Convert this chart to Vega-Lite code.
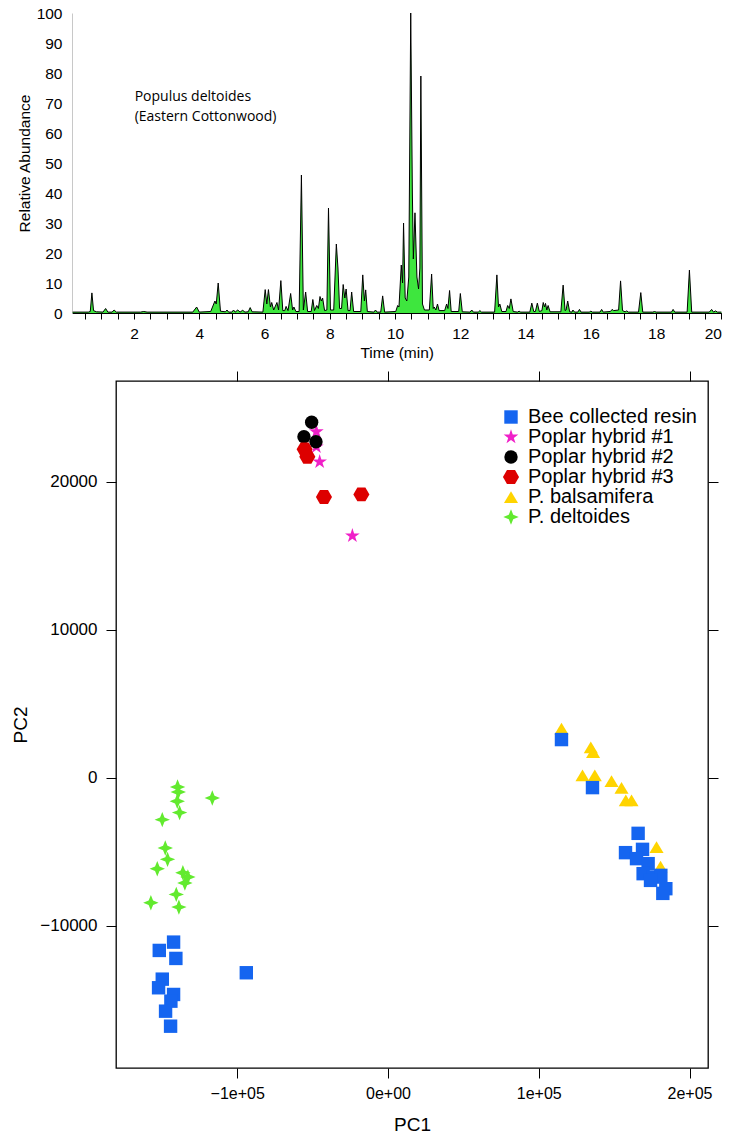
{
  "$schema": "https://vega.github.io/schema/vega-lite/v6.json",
  "background": "white",
  "padding": {"left": 10, "top": 6, "right": 0, "bottom": 0},
  "spacing": 8,
  "config": {
    "font": "Liberation Sans",
    "view": {"stroke": "black", "strokeWidth": 1.3},
    "axis": {"grid": false, "labelColor": "black", "titleColor": "black", "domainColor": "black", "tickColor": "black", "titleFontWeight": "normal", "labelFont": "Liberation Sans", "titleFont": "Liberation Sans"}
  },
  "vconcat": [
    {
      "width": 649.4,
      "height": 300,
      "view": {"stroke": null},
      "encoding": {
        "x": {"field": "t", "type": "quantitative", "scale": {"domain": [0.1, 20], "nice": false, "zero": false},
          "axis": {"values": [0.5,1,1.5,2,2.5,3,3.5,4,4.5,5,5.5,6,6.5,7,7.5,8,8.5,9,9.5,10,10.5,11,11.5,12,12.5,13,13.5,14,14.5,15,15.5,16,16.5,17,17.5,18,18.5,19,19.5,20],
            "labelExpr": "datum.value / 2 == floor(datum.value / 2) ? format(datum.value, 'd') : ''", "labelOverlap": false, "labelFontSize": 15.5, "tickSize": 6, "labelPadding": 7,
            "title": "Time (min)", "titleFontSize": 15.5, "titlePadding": 4, "domain": true}},
        "y": {"field": "a", "type": "quantitative", "scale": {"domain": [0, 100], "nice": false},
          "axis": {"values": [0,10,20,30,40,50,60,70,80,90,100], "labelOverlap": false, "ticks": false, "labelPadding": 10, "labelFontSize": 15.5,
            "title": "Relative Abundance", "titleFontSize": 15.5, "titlePadding": 4, "domainColor": "#c8c8c8"}}
      },
      "layer": [
        {
          "data": {"values": [
            {"t":0.12,"a":0.3},{"t":0.6,"a":0.3},{"t":0.66,"a":0.5},{"t":0.71,"a":6.7},{"t":0.76,"a":0.8},{"t":0.85,"a":0.4},
            {"t":1.05,"a":0.3},{"t":1.13,"a":1.5},{"t":1.2,"a":0.3},{"t":1.33,"a":0.3},{"t":1.39,"a":1.0},{"t":1.46,"a":0.3},
            {"t":2.2,"a":0.3},{"t":2.3,"a":0.5},{"t":2.4,"a":0.3},{"t":3.8,"a":0.3},{"t":3.92,"a":2.0},{"t":4.0,"a":0.3},
            {"t":4.35,"a":0.5},{"t":4.48,"a":4.0},{"t":4.52,"a":3.0},{"t":4.58,"a":10.0},{"t":4.65,"a":0.6},
            {"t":4.8,"a":0.4},{"t":4.85,"a":1.0},{"t":4.9,"a":0.3},{"t":5.0,"a":0.3},{"t":5.05,"a":1.0},{"t":5.1,"a":0.3},
            {"t":5.18,"a":1.0},{"t":5.25,"a":0.3},{"t":5.33,"a":0.9},{"t":5.4,"a":0.3},{"t":5.5,"a":0.4},{"t":5.56,"a":1.8},{"t":5.62,"a":0.4},
            {"t":5.95,"a":0.3},{"t":6.02,"a":7.8},{"t":6.07,"a":3},{"t":6.12,"a":7.8},{"t":6.18,"a":2},{"t":6.22,"a":3.5},{"t":6.28,"a":1},
            {"t":6.38,"a":3.5},{"t":6.43,"a":1},{"t":6.5,"a":10.8},{"t":6.56,"a":0.8},{"t":6.62,"a":0.8},{"t":6.66,"a":2.2},{"t":6.72,"a":0.8},
            {"t":6.8,"a":6.5},{"t":6.86,"a":1},{"t":6.9,"a":2},{"t":6.96,"a":0.5},{"t":7.06,"a":0.5},{"t":7.13,"a":46},{"t":7.19,"a":1},
            {"t":7.26,"a":7},{"t":7.32,"a":0.5},{"t":7.43,"a":0.5},{"t":7.48,"a":4.5},{"t":7.53,"a":0.8},{"t":7.6,"a":2.5},{"t":7.65,"a":1.5},
            {"t":7.7,"a":5.5},{"t":7.74,"a":4},{"t":7.78,"a":5},{"t":7.84,"a":0.8},{"t":7.91,"a":1},{"t":7.96,"a":35},{"t":8.02,"a":1},
            {"t":8.12,"a":1},{"t":8.2,"a":23},{"t":8.25,"a":15},{"t":8.3,"a":1.5},{"t":8.36,"a":1.5},{"t":8.41,"a":9.5},{"t":8.46,"a":5},
            {"t":8.5,"a":8},{"t":8.56,"a":0.8},{"t":8.62,"a":0.8},{"t":8.67,"a":7},{"t":8.73,"a":0.5},{"t":8.95,"a":0.5},{"t":9.01,"a":12.7},
            {"t":9.06,"a":4},{"t":9.1,"a":7.7},{"t":9.15,"a":0.5},{"t":9.35,"a":0.3},{"t":9.4,"a":1},{"t":9.45,"a":0.3},{"t":9.56,"a":0.3},
            {"t":9.62,"a":5.7},{"t":9.68,"a":0.3},{"t":10.02,"a":0.5},{"t":10.08,"a":2.5},{"t":10.12,"a":2},{"t":10.19,"a":16},{"t":10.23,"a":10},
            {"t":10.26,"a":30},{"t":10.31,"a":5},{"t":10.36,"a":4},{"t":10.42,"a":12},{"t":10.48,"a":100},{"t":10.53,"a":40},{"t":10.56,"a":18},
            {"t":10.61,"a":33.4},{"t":10.67,"a":12},{"t":10.72,"a":8},{"t":10.76,"a":15},{"t":10.79,"a":79},{"t":10.84,"a":3},{"t":10.9,"a":1},
            {"t":11.05,"a":1},{"t":11.12,"a":13},{"t":11.17,"a":1.5},{"t":11.2,"a":2},{"t":11.25,"a":1},{"t":11.3,"a":3},{"t":11.35,"a":0.8},
            {"t":11.52,"a":0.8},{"t":11.58,"a":3},{"t":11.62,"a":1.5},{"t":11.67,"a":7.5},{"t":11.72,"a":0.5},{"t":11.95,"a":0.5},{"t":12.0,"a":6.5},
            {"t":12.06,"a":0.4},{"t":12.3,"a":0.3},{"t":12.35,"a":1},{"t":12.4,"a":0.3},{"t":12.55,"a":0.3},{"t":12.6,"a":0.8},{"t":12.65,"a":0.3},
            {"t":13.05,"a":0.3},{"t":13.12,"a":12.7},{"t":13.17,"a":2},{"t":13.21,"a":3},{"t":13.27,"a":0.5},{"t":13.4,"a":0.5},{"t":13.45,"a":2.5},
            {"t":13.5,"a":1.5},{"t":13.55,"a":4.7},{"t":13.62,"a":0.5},{"t":13.75,"a":0.3},{"t":13.8,"a":0.6},{"t":13.85,"a":0.3},{"t":14.13,"a":0.3},
            {"t":14.19,"a":3.3},{"t":14.25,"a":0.5},{"t":14.3,"a":0.5},{"t":14.36,"a":3.3},{"t":14.42,"a":0.5},{"t":14.5,"a":0.8},{"t":14.54,"a":3.5},
            {"t":14.58,"a":2},{"t":14.61,"a":3.2},{"t":14.65,"a":1},{"t":14.69,"a":2.5},{"t":14.75,"a":0.4},{"t":15.08,"a":0.4},{"t":15.15,"a":9.3},
            {"t":15.21,"a":0.8},{"t":15.24,"a":1},{"t":15.29,"a":4},{"t":15.35,"a":0.4},{"t":15.42,"a":0.3},{"t":15.45,"a":1},{"t":15.5,"a":0.3},
            {"t":15.6,"a":0.3},{"t":15.65,"a":1.2},{"t":15.7,"a":0.3},{"t":15.95,"a":0.3},{"t":16.0,"a":0.6},{"t":16.05,"a":0.3},{"t":16.28,"a":0.3},
            {"t":16.33,"a":1.2},{"t":16.38,"a":0.3},{"t":16.6,"a":0.5},{"t":16.65,"a":1.2},{"t":16.7,"a":0.8},{"t":16.85,"a":1},{"t":16.91,"a":10.7},
            {"t":16.97,"a":0.8},{"t":17.05,"a":0.4},{"t":17.1,"a":0.7},{"t":17.15,"a":0.3},{"t":17.46,"a":0.3},{"t":17.53,"a":6.8},{"t":17.59,"a":0.3},
            {"t":17.9,"a":0.3},{"t":17.95,"a":0.5},{"t":18.0,"a":0.3},{"t":18.47,"a":0.3},{"t":18.52,"a":1.2},{"t":18.57,"a":0.3},{"t":18.95,"a":0.3},
            {"t":19.02,"a":14.3},{"t":19.09,"a":0.3},{"t":19.63,"a":0.3},{"t":19.7,"a":1.2},{"t":19.76,"a":0.3},{"t":19.82,"a":0.7},{"t":19.88,"a":0.3},
            {"t":20,"a":0.3}
          ]},
          "mark": {"type": "area", "color": "#3ee63e", "opacity": 1, "line": {"color": "black", "strokeWidth": 1}}
        },
        {
          "data": {"values": [
            {"t": 2.02, "a": 72, "label": "Populus deltoides"},
            {"t": 2.02, "a": 65.3, "label": "(Eastern Cottonwood)"}
          ]},
          "mark": {"type": "text", "align": "left", "baseline": "middle", "font": "Open Sans", "fontSize": 14, "color": "black"},
          "encoding": {"text": {"field": "label"}}
        }
      ]
    },
    {
      "hconcat": [
        {
          "width": 43.6,
          "height": 10,
          "view": {"stroke": null},
          "data": {"values": [{"d": 0}]},
          "mark": {"type": "point", "opacity": 0},
          "encoding": {}
        },
        {
          "width": 592,
          "height": 687,
          "data": {"values": [
            {"g":"P. balsamifera","pc1":115070,"pc2":3315},
            {"g":"P. balsamifera","pc1":136040,"pc2":1732},
            {"g":"P. balsamifera","pc1":134510,"pc2":2050},
            {"g":"P. balsamifera","pc1":129010,"pc2":156},
            {"g":"P. balsamifera","pc1":137170,"pc2":156},
            {"g":"P. balsamifera","pc1":148250,"pc2":-230},
            {"g":"P. balsamifera","pc1":154890,"pc2":-677},
            {"g":"P. balsamifera","pc1":157740,"pc2":-1536},
            {"g":"P. balsamifera","pc1":161520,"pc2":-1536},
            {"g":"P. balsamifera","pc1":178110,"pc2":-4696},
            {"g":"P. balsamifera","pc1":180770,"pc2":-6002},
            {"g":"P. deltoides","pc1":-139560,"pc2":-636},
            {"g":"P. deltoides","pc1":-139090,"pc2":-974},
            {"g":"P. deltoides","pc1":-116530,"pc2":-1380},
            {"g":"P. deltoides","pc1":-139760,"pc2":-1604},
            {"g":"P. deltoides","pc1":-138230,"pc2":-2368},
            {"g":"P. deltoides","pc1":-149710,"pc2":-2842},
            {"g":"P. deltoides","pc1":-147720,"pc2":-4763},
            {"g":"P. deltoides","pc1":-146200,"pc2":-5528},
            {"g":"P. deltoides","pc1":-153030,"pc2":-6157},
            {"g":"P. deltoides","pc1":-136040,"pc2":-6428},
            {"g":"P. deltoides","pc1":-132720,"pc2":-6725},
            {"g":"P. deltoides","pc1":-134710,"pc2":-7131},
            {"g":"P. deltoides","pc1":-140420,"pc2":-7896},
            {"g":"P. deltoides","pc1":-157270,"pc2":-8458},
            {"g":"P. deltoides","pc1":-138690,"pc2":-8755},
            {"g":"Poplar hybrid #1","pc1":-47510,"pc2":23383},
            {"g":"Poplar hybrid #1","pc1":-47510,"pc2":22368},
            {"g":"Poplar hybrid #1","pc1":-45320,"pc2":21354},
            {"g":"Poplar hybrid #1","pc1":-23620,"pc2":16347},
            {"g":"Poplar hybrid #2","pc1":-50630,"pc2":24020},
            {"g":"Poplar hybrid #2","pc1":-55740,"pc2":23045},
            {"g":"Poplar hybrid #2","pc1":-47780,"pc2":22707},
            {"g":"Poplar hybrid #3","pc1":-55280,"pc2":22192},
            {"g":"Poplar hybrid #3","pc1":-53490,"pc2":21692},
            {"g":"Poplar hybrid #3","pc1":-42470,"pc2":18965},
            {"g":"Poplar hybrid #3","pc1":-17650,"pc2":19148},
            {"g":"Bee collected resin","pc1":115070,"pc2":2571},
            {"g":"Bee collected resin","pc1":135640,"pc2":-677},
            {"g":"Bee collected resin","pc1":165900,"pc2":-3769},
            {"g":"Bee collected resin","pc1":157540,"pc2":-5074},
            {"g":"Bee collected resin","pc1":168820,"pc2":-4851},
            {"g":"Bee collected resin","pc1":164840,"pc2":-5480},
            {"g":"Bee collected resin","pc1":172540,"pc2":-5819},
            {"g":"Bee collected resin","pc1":169220,"pc2":-6495},
            {"g":"Bee collected resin","pc1":175850,"pc2":-6726},
            {"g":"Bee collected resin","pc1":180970,"pc2":-6610},
            {"g":"Bee collected resin","pc1":174130,"pc2":-6949},
            {"g":"Bee collected resin","pc1":184280,"pc2":-7510},
            {"g":"Bee collected resin","pc1":182290,"pc2":-7828},
            {"g":"Bee collected resin","pc1":-142210,"pc2":-11123},
            {"g":"Bee collected resin","pc1":-151700,"pc2":-11685},
            {"g":"Bee collected resin","pc1":-140690,"pc2":-12226},
            {"g":"Bee collected resin","pc1":-93970,"pc2":-13194},
            {"g":"Bee collected resin","pc1":-149710,"pc2":-13627},
            {"g":"Bee collected resin","pc1":-152160,"pc2":-14209},
            {"g":"Bee collected resin","pc1":-142210,"pc2":-14662},
            {"g":"Bee collected resin","pc1":-144000,"pc2":-15115},
            {"g":"Bee collected resin","pc1":-147520,"pc2":-15792},
            {"g":"Bee collected resin","pc1":-144200,"pc2":-16807}
          ]},
          "layer": [
            {
              "mark": {"type": "point", "filled": true, "opacity": 1, "size": 180, "strokeWidth": 0},
              "encoding": {
                "x": {"field": "pc1", "type": "quantitative", "scale": {"domain": [-180400, 212250], "nice": false, "zero": false},
                  "axis": {"values": [-100000, 0, 100000, 200000], "labelExpr": "datum.value == 0 ? '0e+00' : (datum.value < 0 ? '\u2212' : '') + format(abs(datum.value)/100000, 'd') + 'e+05'",
                    "labelFontSize": 16, "tickSize": 10, "labelPadding": 7, "title": "PC1", "titleFontSize": 19, "titlePadding": 14, "domain": false}},
                "y": {"field": "pc2", "type": "quantitative", "scale": {"domain": [-19634, 26814], "nice": false, "zero": false},
                  "axis": {"values": [-10000, 0, 10000, 20000], "format": "d", "labelFontSize": 17, "tickSize": 10, "labelPadding": 9,
                    "title": "PC2", "titleFontSize": 19, "titlePadding": 9.5, "domain": false}},
                "color": {"field": "g", "type": "nominal",
                  "scale": {"domain": ["Bee collected resin","Poplar hybrid #1","Poplar hybrid #2","Poplar hybrid #3","P. balsamifera","P. deltoides"],
                            "range": ["#1565f0","#f020c8","#000000","#dd0000","#ffd400","#62ea2e"]},
                  "legend": {"orient": "none", "legendX": 429, "legendY": 394, "title": null, "labelFontSize": 20, "labelFont": "Liberation Sans", "labelLimit": 400, "rowPadding": -3.5, "symbolSize": 180, "labelOffset": 7, "symbolStrokeWidth": 0, "labelColor": "black", "padding": 0}},
                "shape": {"field": "g", "type": "nominal",
                  "scale": {"domain": ["Bee collected resin","Poplar hybrid #1","Poplar hybrid #2","Poplar hybrid #3","P. balsamifera","P. deltoides"],
                            "range": ["square",
                                      "M0,-1.15L0.258,-0.355L1.094,-0.355L0.417,0.136L0.676,0.93L0,0.439L-0.676,0.93L-0.417,0.136L-1.094,-0.355L-0.258,-0.355Z",
                                      "circle",
                                      "M-1.2,0L-0.6,-1.04L0.6,-1.04L1.2,0L0.6,1.04L-0.6,1.04Z",
                                      "M0,-0.85L1.05,0.9L-1.05,0.9Z",
                                      "M0,-1.15L0.33,-0.33L1.15,0L0.33,0.33L0,1.15L-0.33,0.33L-1.15,0L-0.33,-0.33Z"]},
                  "legend": {"orient": "none", "legendX": 429, "legendY": 394, "title": null, "labelFontSize": 20, "labelFont": "Liberation Sans", "labelLimit": 400, "rowPadding": -3.5, "symbolSize": 180, "labelOffset": 7, "symbolStrokeWidth": 0, "labelColor": "black", "padding": 0}}
              }
            },
            {
              "mark": {"type": "point", "opacity": 0},
              "encoding": {
                "x": {"field": "pc1", "type": "quantitative", "axis": {"orient": "top", "values": [-100000, 0, 100000, 200000], "labels": false, "title": null, "tickSize": 10, "domain": false}},
                "y": {"field": "pc2", "type": "quantitative", "axis": {"orient": "right", "values": [-10000, 0, 10000, 20000], "labels": false, "title": null, "tickSize": 10, "domain": false}}
              }
            }
          ],
          "resolve": {"axis": {"x": "independent", "y": "independent"}}
        }
      ],
      "spacing": 0,
      "bounds": "flush"
    }
  ]
}
